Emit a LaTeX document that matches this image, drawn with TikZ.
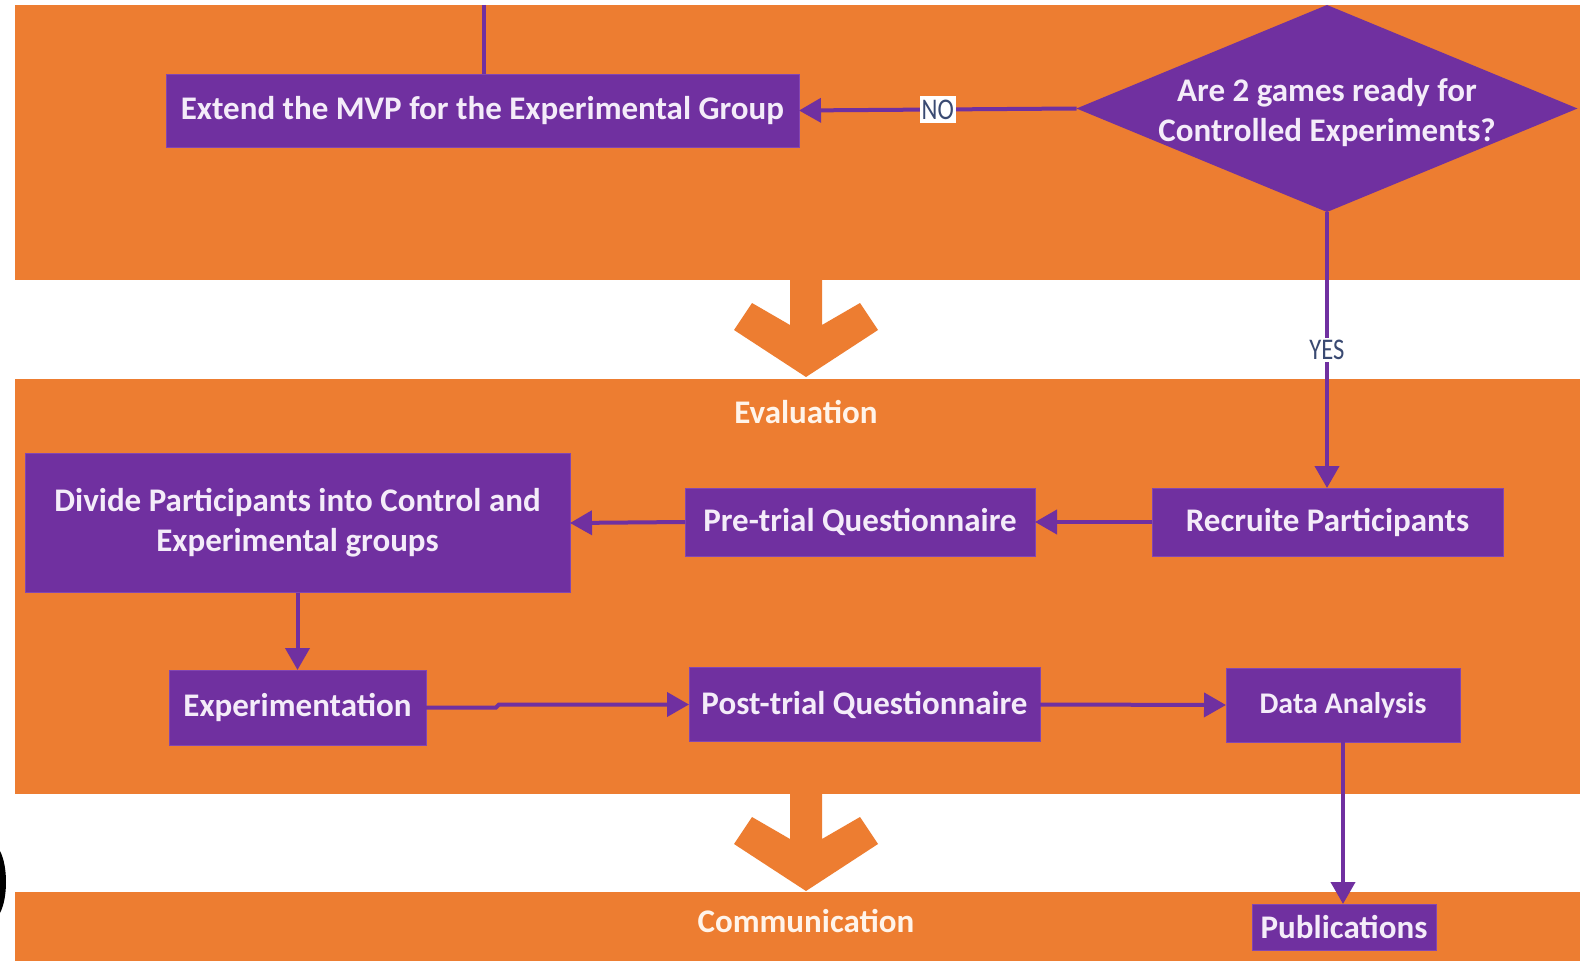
\documentclass[tikz,border=0pt]{standalone}
\usepackage{fontspec}
\setmainfont{Carlito}
\newfontfamily\lblfont[FakeStretch=0.82]{Carlito}
\usetikzlibrary{arrows.meta,shapes.geometric}

\definecolor{band}{HTML}{ED7D31}
\definecolor{boxpurple}{HTML}{7030A0}
\definecolor{boxedge}{HTML}{8246B2}
\definecolor{boxtext}{HTML}{F4ECF9}
\definecolor{bandtext}{HTML}{FFF4EA}
\definecolor{labeltext}{HTML}{3A4A72}

\begin{document}
\begin{tikzpicture}[x=1pt,y=-1pt,
  stepbox/.style={fill=boxpurple, draw=boxedge, line width=0.8pt,
    inner sep=0pt, outer sep=0pt, text=boxtext, align=center,
    font=\bfseries\fontsize{33}{40}\selectfont},
  decision/.style={diamond, fill=boxpurple, inner sep=0pt, outer sep=0pt,
    minimum width=501pt, minimum height=207pt},
  bandlabel/.style={text=bandtext, inner sep=0pt,
    font=\bfseries\fontsize{33}{40}\selectfont},
  answer/.style={fill=white, text=labeltext, inner sep=2pt,
    font=\lblfont\fontsize{30}{30}\selectfont},
  link/.style={draw=boxpurple, line width=4pt},
  flow/.style={link, -{Triangle[length=22pt,width=24pt]}},
  chev/.pic={
    \fill[band] (-16,-2) -- (16,-2) -- (16,45) -- (54,23) -- (72,50)
      -- (0,97) -- (-72,50) -- (-54,23) -- (-16,45) -- cycle;
  }
]
\useasboundingbox (0,0) rectangle (1580,963);
\fill[white] (0,0) rectangle (1580,963);

% phase bands
\fill[band] (15,5) rectangle (1580,280);
\fill[band] (15,379) rectangle (1580,794);
\fill[band] (15,892) rectangle (1580,961);

% phase transition chevrons
\pic at (806,280) {chev};
\pic at (806,794) {chev};

% partial ring at the left edge
\fill[black] (0,851) .. controls (8,866) and (8,898) .. (0,913) -- cycle;

% phase titles
\node[bandlabel] (eval) at (806,412) {Evaluation};
\node[bandlabel] (comm) at (806,921) {Communication};

% steps
\node[stepbox, minimum width=633pt, minimum height=73pt] (ext) at (482.5,110.5)
  {Extend the MVP for the Experimental Group};
\node[decision] (q) at (1327,108.5) {};
\node[text=boxtext, align=center, inner sep=0pt,
  font=\bfseries\fontsize{33}{40}\selectfont] (qt) at (1327,113)
  {Are 2 games ready for\\Controlled Experiments?};
\node[stepbox, minimum width=351pt, minimum height=68pt] (rec) at (1327.5,522)
  {Recruite Participants};
\node[stepbox, minimum width=350pt, minimum height=68pt] (pre) at (860,522)
  {Pre-trial Questionnaire};
\node[stepbox, minimum width=545pt, minimum height=139pt] (div) at (297.5,523)
  {Divide Participants into Control and\\Experimental groups};
\node[stepbox, minimum width=257pt, minimum height=75pt] (exp) at (297.5,707.5)
  {Experimentation};
\node[stepbox, minimum width=351pt, minimum height=74pt] (post) at (864.5,704.5)
  {Post-trial Questionnaire};
\node[stepbox, minimum width=234pt, minimum height=74pt,
  font=\bfseries\fontsize{30}{36}\selectfont] (data) at (1343,705)
  {Data Analysis};
\node[stepbox, minimum width=184pt, minimum height=46pt] (pub) at (1344,927)
  {Publications};

% connectors
\coordinate (topin) at (484,5);
\draw[link] (topin) -- (topin |- ext.north);
\draw[flow] (q.west) -- node[answer, minimum height=27pt] (no) {NO} (ext.east);
\draw[flow] (q.south) -- node[answer] (yes) {YES} (q.south |- rec.north);
\draw[flow] (rec.west) -- (pre.east);
\draw[flow] (pre.west) -- (div.east);
\draw[flow] (div.south) -- (div.south |- exp.north);
\draw[flow] (exp.east) -- ++(70,0) -- ++(3,-3) -- (post.west);
\draw[flow] (post.east) -- (data.west);
\draw[flow] (data.south) -- (data.south |- pub.north);
\end{tikzpicture}
\end{document}
